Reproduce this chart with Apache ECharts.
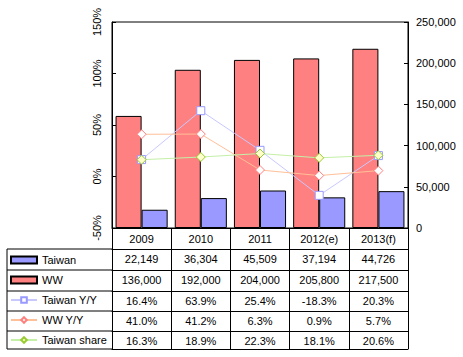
<!DOCTYPE html>
<html>
<head>
<meta charset="utf-8">
<script src="https://cdn.jsdelivr.net/npm/echarts@6/dist/echarts.min.js"></script>
<style>
html,body{margin:0;padding:0;background:#fff;}
#c{width:463px;height:357px;}
</style>
</head>
<body>
<div id="c"></div>
<script>
// ---- data ----
var categories = ['2009', '2010', '2011', '2012(e)', '2013(f)'];
var taiwan = [22149, 36304, 45509, 37194, 44726];
var ww = [136000, 192000, 204000, 205800, 217500];
var taiwanYY = [16.4, 63.9, 25.4, -18.3, 20.3];
var wwYY = [41.0, 41.2, 6.3, 0.9, 5.7];
var taiwanShare = [16.3, 18.9, 22.3, 18.1, 20.6];
var leftTicks = [-50, 0, 50, 100, 150];
var rightTicks = [0, 50000, 100000, 150000, 200000, 250000];

// ---- layout / style ----
var FONT = 'Liberation Sans, Arial, sans-serif';
var gridLeft = 112, gridRight = 408, gridTop = 22, gridBottom = 228;
var rowOffsets = [21, 42, 63, 83, 103, 121]; // table row borders below plot bottom
var tableLeft = 7;

function fmtNum(v) { return v.toLocaleString('en-US'); }
function fmtPct(v) { return v.toFixed(1) + '%'; }

var rows = [
  { name: 'Taiwan', values: taiwan, fmt: fmtNum },
  { name: 'WW', values: ww, fmt: fmtNum },
  { name: 'Taiwan Y/Y', values: taiwanYY, fmt: fmtPct },
  { name: 'WW Y/Y', values: wwYY, fmt: fmtPct },
  { name: 'Taiwan share', values: taiwanShare, fmt: fmtPct }
];

var xAxes = [{
  type: 'category', data: categories, position: 'bottom', gridIndex: 0,
  boundaryGap: true,
  axisLine: { show: true, onZero: false, lineStyle: { color: '#000', width: 1 } },
  axisTick: { show: true, length: rowOffsets[0], lineStyle: { color: '#000' } },
  axisLabel: { show: true, interval: 0, margin: 5, color: '#000', fontSize: 11, fontFamily: FONT },
  splitLine: { show: false }
}];
rows.forEach(function (r, i) {
  xAxes.push({
    type: 'category', data: categories, position: 'bottom', gridIndex: 0,
    offset: rowOffsets[i], boundaryGap: true,
    axisLine: { show: true, onZero: false, lineStyle: { color: '#000', width: 1 } },
    axisTick: { show: true, length: rowOffsets[i + 1] - rowOffsets[i], lineStyle: { color: '#000' } },
    axisLabel: {
      show: true, interval: 0, margin: 4, color: '#000', fontSize: 11, fontFamily: FONT,
      formatter: function (v, idx) { return r.fmt(r.values[idx]); }
    },
    splitLine: { show: false }
  });
});
xAxes.push({
  type: 'category', data: categories, position: 'bottom', gridIndex: 0,
  offset: rowOffsets[rowOffsets.length - 1],
  axisLine: { show: true, onZero: false, lineStyle: { color: '#000', width: 1 } },
  axisTick: { show: false }, axisLabel: { show: false }, splitLine: { show: false }
});

// label-column borders of the table
var tableGraphics = [];
rowOffsets.forEach(function (o) {
  tableGraphics.push({
    type: 'line', silent: true,
    shape: { x1: tableLeft, y1: gridBottom + o, x2: gridLeft, y2: gridBottom + o },
    style: { stroke: '#000', lineWidth: 1 }
  });
});
tableGraphics.push({
  type: 'line', silent: true,
  shape: { x1: tableLeft, y1: gridBottom + rowOffsets[0], x2: tableLeft, y2: gridBottom + rowOffsets[rowOffsets.length - 1] },
  style: { stroke: '#000', lineWidth: 1 }
});

var chart = echarts.init(document.getElementById('c'), null, { renderer: 'svg' });
chart.setOption({
  animation: false,
  backgroundColor: '#fff',
  textStyle: { fontFamily: FONT },
  grid: {
    left: gridLeft, right: 463 - gridRight, top: gridTop, bottom: 357 - gridBottom,
    show: true, borderColor: '#000', borderWidth: 1, backgroundColor: '#fff'
  },
  legend: {
    orient: 'vertical', left: 10, top: 250, itemGap: 0, padding: 0,
    itemWidth: 26, itemHeight: 7,
    data: [
      { name: 'Taiwan', icon: 'rect' },
      { name: 'WW', icon: 'rect' },
      { name: 'Taiwan Y/Y' },
      { name: 'WW Y/Y' },
      { name: 'Taiwan share' }
    ],
    textStyle: { color: '#000', fontSize: 11, fontFamily: FONT, lineHeight: 20 },
    selectedMode: false
  },
  xAxis: xAxes,
  yAxis: [{
    type: 'value', position: 'left', min: leftTicks[0], max: leftTicks[leftTicks.length - 1], interval: 50,
    axisLine: { show: true, lineStyle: { color: '#000' } },
    axisTick: { show: true, inside: true, length: 4, lineStyle: { color: '#000' } },
    axisLabel: { rotate: 90, margin: 10, color: '#000', fontSize: 11, fontFamily: FONT, formatter: '{value}%' },
    splitLine: { show: false }
  }, {
    type: 'value', position: 'right', min: rightTicks[0], max: rightTicks[rightTicks.length - 1], interval: 50000,
    axisLine: { show: true, lineStyle: { color: '#000' } },
    axisTick: { show: true, inside: true, length: 4, lineStyle: { color: '#000' } },
    axisLabel: { margin: 8, color: '#000', fontSize: 11, fontFamily: FONT, formatter: function (v) { return fmtNum(v); } },
    splitLine: { show: false }
  }],
  graphic: tableGraphics,
  series: [{
    name: 'WW', type: 'bar', yAxisIndex: 1, data: ww,
    barGap: '0%', barCategoryGap: '12%',
    itemStyle: { color: '#FF8080', borderColor: '#000', borderWidth: 1 }
  }, {
    name: 'Taiwan', type: 'bar', yAxisIndex: 1, data: taiwan,
    barGap: '0%', barCategoryGap: '12%',
    itemStyle: { color: '#9999FF', borderColor: '#000', borderWidth: 1 }
  }, {
    name: 'Taiwan Y/Y', type: 'line', yAxisIndex: 0, data: taiwanYY,
    symbol: 'rect', symbolSize: 8,
    lineStyle: { color: '#C8C8FF', width: 1 },
    itemStyle: { color: '#fff', borderColor: '#9999FF', borderWidth: 1 }
  }, {
    name: 'WW Y/Y', type: 'line', yAxisIndex: 0, data: wwYY,
    symbol: 'diamond', symbolSize: 9,
    lineStyle: { color: '#FFC099', width: 1 },
    itemStyle: { color: '#fff', borderColor: '#FF8080', borderWidth: 1 }
  }, {
    name: 'Taiwan share', type: 'line', yAxisIndex: 0, data: taiwanShare,
    symbol: 'diamond', symbolSize: 9,
    lineStyle: { color: '#C4F0A8', width: 1 },
    itemStyle: { color: '#FFFFCC', borderColor: '#99CC33', borderWidth: 1 }
  }]
});
</script>
</body>
</html>
